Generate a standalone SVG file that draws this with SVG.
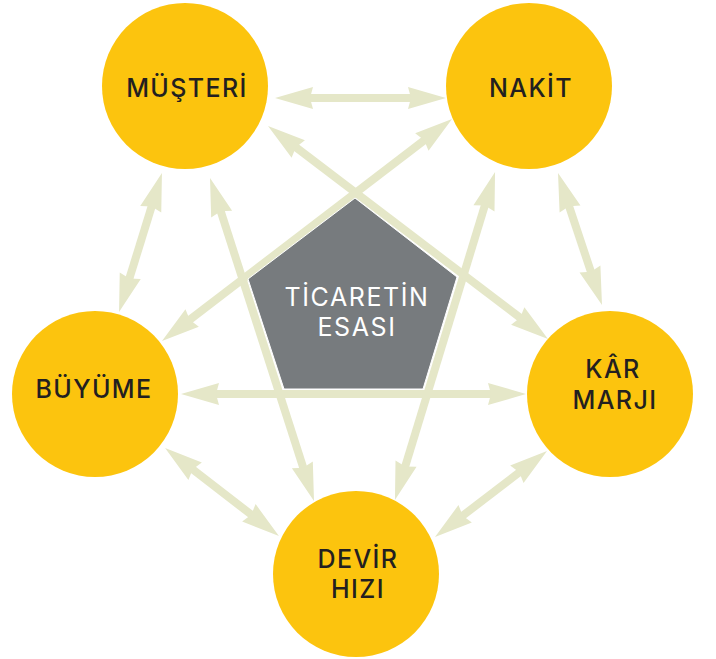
<svg xmlns="http://www.w3.org/2000/svg" width="716" height="659" viewBox="0 0 716 659">
<style>
.node{fill:#fcc40e}
.lbl{font-family:Inter,"Liberation Sans",sans-serif;font-weight:500;font-size:25px;fill:#231f20;text-anchor:middle;letter-spacing:1.4px}
.clbl{font-family:Inter,"Liberation Sans",sans-serif;font-weight:400;font-size:25px;fill:#ffffff;text-anchor:middle;letter-spacing:1.6px}
.conn line{stroke:#e5e7c8;stroke-width:8;marker-start:url(#ah);marker-end:url(#ah)}
</style>
<defs>
<marker id="ah" markerUnits="userSpaceOnUse" viewBox="-10 -12 42 24" refX="0" refY="0" markerWidth="42" markerHeight="24" orient="auto-start-reverse">
<path d="M30,0 L-8,-11 L-5,0 L-8,11 Z" fill="#e5e7c8"/>
</marker>
</defs>
<rect width="716" height="659" fill="#ffffff"/>
<g id="connectors" class="conn">
<line x1="305" y1="98" x2="416" y2="98"/>
<line x1="567.5" y1="201.5" x2="592.5" y2="276.5"/>
<line x1="523.2" y1="469.3" x2="458.8" y2="518.7"/>
<line x1="188.8" y1="466.3" x2="255.2" y2="517.7"/>
<line x1="153.1" y1="201.7" x2="127.9" y2="283.3"/>
<line x1="219.2" y1="206.6" x2="304.8" y2="472.4"/>
<line x1="486.3" y1="200.7" x2="403.7" y2="471.3"/>
<line x1="291.9" y1="144.2" x2="524.1" y2="320.8"/>
<line x1="428.2" y1="137.2" x2="185.8" y2="322.8"/>
<line x1="211" y1="394" x2="496" y2="394"/>
</g>
<g id="center">
<polygon points="355,198 457,277 423,389 284,389 248,279" fill="#777b7e" stroke="#ffffff" stroke-width="1"/>
<text class="clbl" x="357" y="306">TİCARETİN</text>
<text class="clbl" x="357" y="336">ESASI</text>
</g>
<g id="musteri">
<circle class="node" cx="185" cy="86" r="83"/>
<text class="lbl" x="187" y="97">MÜŞTERİ</text>
</g>
<g id="nakit">
<circle class="node" cx="529" cy="86" r="83"/>
<text class="lbl" x="531" y="97">NAKİT</text>
</g>
<g id="buyume">
<circle class="node" cx="95" cy="394" r="83"/>
<text class="lbl" x="94" y="398">BÜYÜME</text>
</g>
<g id="karmarji">
<circle class="node" cx="610" cy="394" r="83"/>
<text class="lbl" x="613" y="378">KÂR</text>
<text class="lbl" x="615" y="409">MARJI</text>
</g>
<g id="devirhizi">
<circle class="node" cx="356" cy="574" r="83"/>
<text class="lbl" x="358" y="568">DEVİR</text>
<text class="lbl" x="358" y="598">HIZI</text>
</g>
</svg>
